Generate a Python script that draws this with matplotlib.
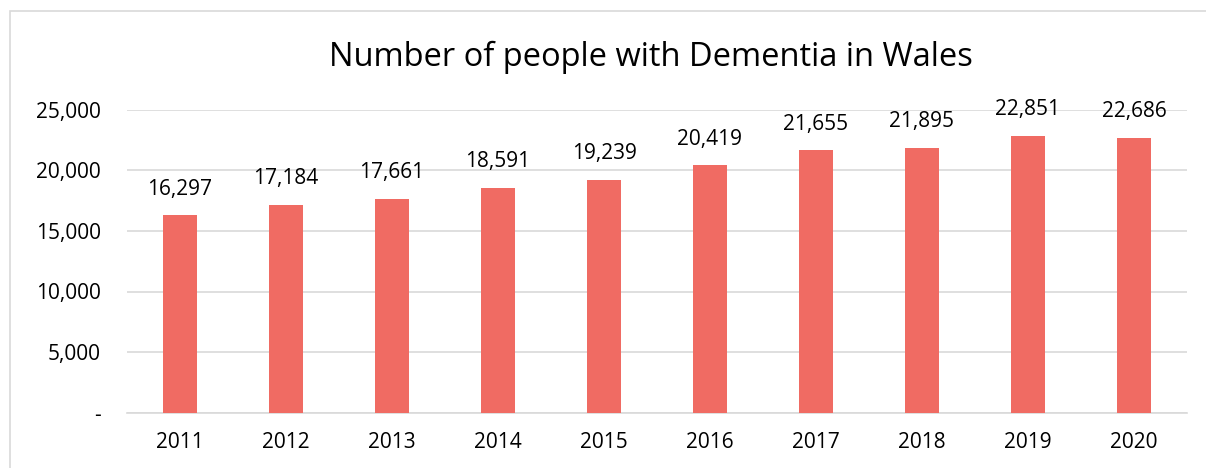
import matplotlib
matplotlib.use('Agg')
import matplotlib.pyplot as plt
from matplotlib.patches import Rectangle

years = ['2011', '2012', '2013', '2014', '2015', '2016', '2017', '2018', '2019', '2020']
people = [16297, 17184, 17661, 18591, 19239, 20419, 21655, 21895, 22851, 22686]

plt.rcParams['font.family'] = ['Open Sans', 'DejaVu Sans']

fig = plt.figure(figsize=(12.06, 4.68), dpi=100)
# light grey frame round the chart (right and bottom edges run off the picture)
fig.patches.append(Rectangle((10 / 1206, -0.05), 1.2, 1 - 11 / 468 + 0.05,
                             transform=fig.transFigure, fill=False,
                             edgecolor='#d9d9d9', linewidth=1.2))

ax = fig.add_axes([127 / 1206, 1 - 412.5 / 468, 1060 / 1206, 302.5 / 468])
x = range(len(years))
ax.bar(x, people, width=0.32, color='#f06b63', zorder=3)

for i, v in enumerate(people):
    ax.text(i, v + 1300, f'{v:,}', ha='center', va='bottom', fontsize=15, color='#000000')

ax.set_xlim(-0.5, len(years) - 0.5)
ax.set_ylim(0, 25000)
ax.set_yticks(range(0, 25001, 5000))
ax.set_yticklabels(['-'] + [f'{t:,}' for t in range(5000, 25001, 5000)])
ax.set_xticks(list(x))
ax.set_xticklabels(years)
ax.tick_params(axis='both', length=0, labelsize=15, colors='#000000')
ax.tick_params(axis='y', pad=19)
ax.tick_params(axis='x', pad=14)
ax.grid(axis='y', color='#d9d9d9', linewidth=1.2, zorder=0)
for s in ['top', 'right', 'left']:
    ax.spines[s].set_visible(False)
ax.spines['bottom'].set_color('#d9d9d9')
ax.spines['bottom'].set_linewidth(1.2)

fig.text(651 / 1206, 1 - 57 / 468, 'Number of people with Dementia in Wales',
         ha='center', va='center', fontsize=23.5)

fig.savefig('out.png', dpi=100)
